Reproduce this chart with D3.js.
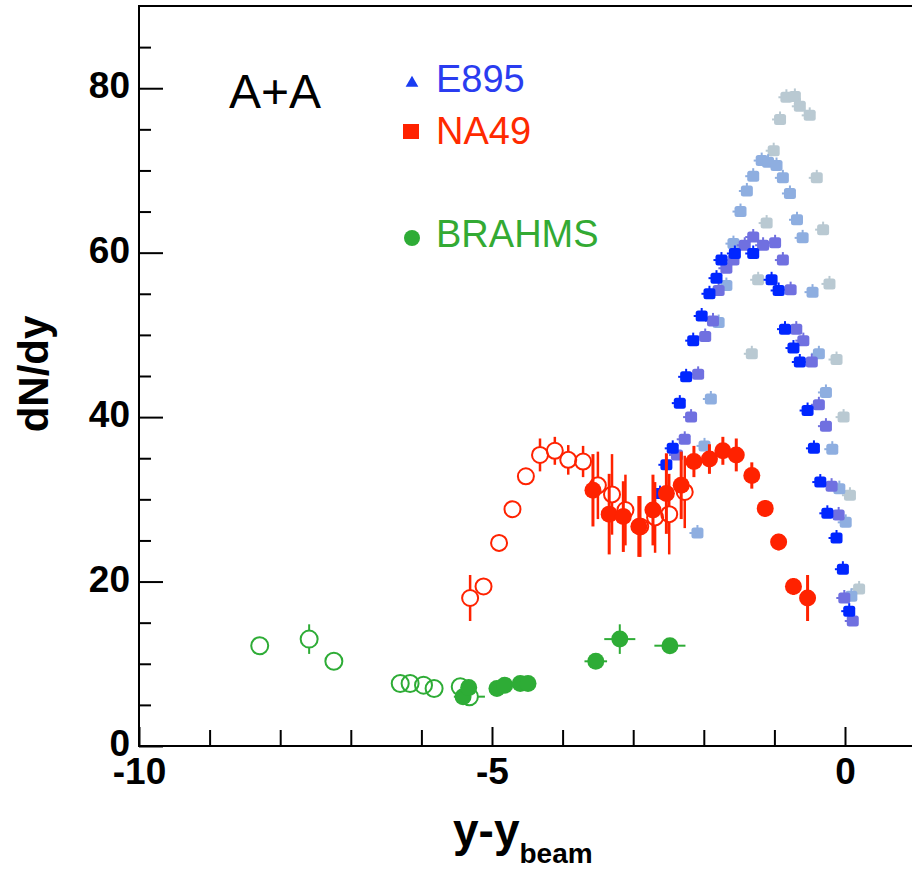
<!DOCTYPE html>
<html>
<head>
<meta charset="utf-8">
<script src="https://cdn.jsdelivr.net/npm/d3@7"></script>
<style>
  html, body { margin: 0; padding: 0; background: #fff; }
  svg { display: block; }
  text { font-family: "Liberation Sans", Arial, sans-serif; }
</style>
</head>
<body>
<svg id="chart" width="912" height="869"></svg>
<script>
// ---------------- DATA ----------------
const xTicks = [-10, -5, 0];
const xMinorTicks = [-9, -8, -7, -6, -4, -3, -2, -1];
const yTicks = [0, 20, 40, 60, 80];
const yMinorTicks = [5, 10, 15, 25, 30, 35, 45, 50, 55, 65, 70, 75, 85];

// E895 (four beam energies) : [y-ybeam, dN/dy]
const e895_2 = [
  [-2.62, 30.7], [-2.53, 34.2], [-2.44, 36.2], [-2.34, 41.7], [-2.25, 44.9],
  [-2.15, 49.3], [-2.03, 52.3], [-1.92, 55.0], [-1.82, 56.9], [-1.75, 59.1],
  [-1.56, 59.9], [-1.30, 59.9], [-1.04, 56.7], [-0.94, 55.4], [-0.85, 50.7],
  [-0.73, 48.4], [-0.64, 46.7], [-0.53, 40.8], [-0.44, 36.2], [-0.35, 32.1],
  [-0.25, 28.3], [-0.12, 25.3], [-0.03, 21.5], [0.06, 16.4]
];
const e895_4 = [
  [-2.38, 35.4], [-2.27, 37.3], [-2.18, 40.0], [-2.08, 45.2], [-1.98, 49.8],
  [-1.87, 51.7], [-1.79, 55.4], [-1.68, 58.1], [-1.58, 59.1], [-1.42, 60.9],
  [-1.30, 61.9], [-1.16, 60.9], [-0.99, 61.2], [-0.88, 59.1], [-0.77, 55.5],
  [-0.69, 50.7], [-0.59, 49.3], [-0.47, 46.7], [-0.37, 41.5], [-0.27, 38.9],
  [-0.19, 31.6], [-0.09, 28.1], [-0.01, 18.0], [0.11, 15.2]
];
const e895_6 = [
  [-2.09, 25.9], [-1.99, 36.5], [-1.90, 42.2], [-1.79, 51.5], [-1.68, 56.0],
  [-1.58, 61.1], [-1.48, 65.0], [-1.39, 67.5], [-1.30, 69.3], [-1.18, 71.2],
  [-1.09, 71.0], [-0.97, 70.6], [-0.88, 69.1], [-0.78, 67.2], [-0.68, 64.0],
  [-0.60, 61.8], [-0.46, 55.2], [-0.37, 47.7], [-0.27, 43.0], [-0.18, 36.1],
  [-0.08, 31.3], [0.01, 27.2], [0.09, 18.2]
];
const e895_8 = [
  [-1.32, 47.7], [-1.23, 56.7], [-1.11, 63.6], [-1.01, 72.4], [-0.92, 76.2],
  [-0.83, 78.9], [-0.71, 79.0], [-0.64, 77.8], [-0.50, 76.7], [-0.40, 69.1],
  [-0.31, 62.8], [-0.22, 56.2], [-0.12, 47.0], [-0.02, 40.0], [0.07, 30.5],
  [0.20, 19.1]
];

// NA49 : [y-ybeam, dN/dy, error]
const na49Measured = [
  [-3.57, 31.1, 4.4], [-3.34, 28.2, 4.9], [-3.14, 27.9, 4.3], [-2.92, 26.7, 3.7],
  [-2.72, 28.7, 4.3], [-2.53, 30.7, 4.9], [-2.32, 31.7, 4.1], [-2.14, 34.6, 1.9],
  [-1.92, 34.9, 1.8], [-1.73, 35.9, 1.7], [-1.54, 35.4, 2.0], [-1.32, 32.9, 1.6],
  [-1.13, 28.9, 1.0], [-0.94, 24.8, 1.0], [-0.73, 19.4, 1.0], [-0.53, 18.0, 2.8]
];
const na49Reflected = [
  [-5.31, 18.0, 2.8], [-5.12, 19.4, 1.0], [-4.90, 24.7, 1.0], [-4.71, 28.8, 1.0],
  [-4.52, 32.8, 1.0], [-4.32, 35.4, 2.0], [-4.11, 35.9, 1.7], [-3.92, 34.8, 1.8],
  [-3.71, 34.6, 1.9], [-3.50, 31.7, 4.1], [-3.30, 30.6, 4.9], [-3.11, 28.7, 4.3],
  [-2.90, 26.7, 3.7], [-2.69, 27.8, 4.3], [-2.49, 28.2, 4.9], [-2.27, 30.9, 4.4]
];

// BRAHMS : [y-ybeam, dN/dy, yError, xError]
const brahmsMeasured = [
  [-5.41, 6.0, 0.4, 0.10], [-5.33, 7.1, 0.4, 0.10], [-4.93, 7.0, 0.4, 0.10],
  [-4.82, 7.4, 0.4, 0.05], [-4.60, 7.6, 0.4, 0.05], [-4.49, 7.6, 0.4, 0.05],
  [-3.53, 10.3, 0.5, 0.16], [-3.19, 13.0, 1.8, 0.22], [-2.48, 12.2, 0.6, 0.22]
];
const brahmsReflected = [
  [-8.29, 12.2, 0.6, 0.0], [-7.59, 13.0, 1.8, 0.0], [-7.24, 10.3, 0.5, 0.0],
  [-6.30, 7.6, 0.4, 0.0], [-6.16, 7.6, 0.4, 0.0], [-5.97, 7.4, 0.4, 0.0],
  [-5.82, 7.0, 0.4, 0.0], [-5.45, 7.2, 0.4, 0.0], [-5.32, 6.0, 0.4, 0.22]
];

const legendLabels = ["E895", "NA49", "BRAHMS"];

// ---------------- DRAWING ----------------
const svg = d3.select("#chart");
const x = d3.scaleLinear().domain([-10, 1]).range([139, 915.6]);
const y = d3.scaleLinear().domain([0, 90]).range([746, 6]);

const RED = "#ff2200", GREEN = "#2eac36";
const E_COLORS = { e2: "#0026ff", e4: "#7070e0", e6: "#8eaee0", e8: "#b9c9d2" };

// frame
svg.append("path")
  .attr("d", `M${x(1)},${y(90)}H${x(-10)}V${y(0)}H${x(1)}`)
  .attr("fill", "none").attr("stroke", "#000").attr("stroke-width", 2);

// axes
const axisFont = (g) => g.selectAll("text")
  .attr("font-family", "'Liberation Sans', Arial, sans-serif")
  .attr("font-weight", "bold").attr("font-size", 37).attr("fill", "#000");

const gx = svg.append("g").attr("transform", `translate(0,${y(0)})`)
  .call(d3.axisBottom(x).tickValues(xTicks).tickFormat(d3.format("d"))
    .tickSizeInner(-19).tickSizeOuter(0).tickPadding(12));
gx.select(".domain").remove();
gx.selectAll("line").attr("stroke-width", 2);
gx.call(axisFont);
gx.selectAll("text").attr("dy", "0.71em").text(d => String(d));

const gxm = svg.append("g").attr("transform", `translate(0,${y(0)})`)
  .call(d3.axisBottom(x).tickValues(xMinorTicks).tickFormat("")
    .tickSizeInner(-16).tickSizeOuter(0));
gxm.select(".domain").remove();
gxm.selectAll("line").attr("stroke-width", 2);

const gy = svg.append("g").attr("transform", `translate(${x(-10)},0)`)
  .call(d3.axisLeft(y).tickValues(yTicks).tickFormat(d3.format("d"))
    .tickSizeInner(-24).tickSizeOuter(0).tickPadding(9));
gy.select(".domain").remove();
gy.selectAll("line").attr("stroke-width", 2);
gy.call(axisFont);
gy.selectAll("text").attr("dy", "0.26em");

const gym = svg.append("g").attr("transform", `translate(${x(-10)},0)`)
  .call(d3.axisLeft(y).tickValues(yMinorTicks).tickFormat("")
    .tickSizeInner(-12).tickSizeOuter(0));
gym.select(".domain").remove();
gym.selectAll("line").attr("stroke-width", 2);

// axis titles
svg.append("text")
  .attr("transform", `translate(48,374) rotate(-90)`)
  .attr("text-anchor", "middle")
  .attr("font-weight", "bold").attr("font-size", 42)
  .text("dN/dy");

const xt = svg.append("text")
  .attr("x", 453).attr("y", 846)
  .attr("font-weight", "bold").attr("font-size", 46);
xt.append("tspan").text("y-y");
xt.append("tspan").attr("dy", 17).attr("font-size", 28).text("beam");

// A+A
svg.append("text").attr("x", 229).attr("y", 108)
  .attr("font-size", 48).attr("fill", "#000").text("A+A");

// ---- E895 markers ----
function drawE895(data, color) {
  const g = svg.append("g");
  const pts = g.selectAll("g").data(data).join("g")
    .attr("transform", d => `translate(${x(d[0])},${y(d[1])})`);
  pts.append("line").attr("x1", 0).attr("x2", 0).attr("y1", -8).attr("y2", 0)
    .attr("stroke", color).attr("stroke-width", 2);
  pts.append("line").attr("x1", -8).attr("x2", 0).attr("y1", 0).attr("y2", 0)
    .attr("stroke", color).attr("stroke-width", 2);
  pts.append("rect").attr("x", -6).attr("y", -5.5).attr("width", 12).attr("height", 11)
    .attr("rx", 2.5).attr("fill", color);
}
drawE895(e895_8, E_COLORS.e8);
drawE895(e895_6, E_COLORS.e6);
drawE895(e895_4, E_COLORS.e4);
drawE895(e895_2, E_COLORS.e2);

// ---- error bars: drawn only outside the marker radius ----
function drawErr(data, color, width, r, yErrIdx, xErrIdx) {
  const g = svg.append("g").attr("stroke", color).attr("stroke-width", width);
  const segs = [];
  data.forEach(d => {
    const cx = x(d[0]), cy = y(d[1]);
    const top = y(d[1] + d[yErrIdx]), bot = y(d[1] - d[yErrIdx]);
    if (cy - top > r) segs.push([cx, top, cx, cy - r]);
    if (bot - cy > r) segs.push([cx, cy + r, cx, bot]);
    if (xErrIdx !== undefined && d[xErrIdx] > 0) {
      const l = x(d[0] - d[xErrIdx]), rr = x(d[0] + d[xErrIdx]);
      if (cx - l > r) segs.push([l, cy, cx - r, cy]);
      if (rr - cx > r) segs.push([cx + r, cy, rr, cy]);
    }
  });
  g.selectAll("line").data(segs).join("line")
    .attr("x1", s => s[0]).attr("y1", s => s[1])
    .attr("x2", s => s[2]).attr("y2", s => s[3]);
}

// ---- NA49 ----
drawErr(na49Reflected, RED, 2.5, 8, 2);
svg.append("g").selectAll("circle").data(na49Reflected).join("circle")
  .attr("cx", d => x(d[0])).attr("cy", d => y(d[1])).attr("r", 8)
  .attr("fill", "none").attr("stroke", RED).attr("stroke-width", 2);
drawErr(na49Measured, RED, 3, 0, 2);
svg.append("g").selectAll("circle").data(na49Measured).join("circle")
  .attr("cx", d => x(d[0])).attr("cy", d => y(d[1])).attr("r", 8.5)
  .attr("fill", RED);

// ---- BRAHMS ----
drawErr(brahmsReflected, GREEN, 2, 8.5, 2, 3);
svg.append("g").selectAll("circle").data(brahmsReflected).join("circle")
  .attr("cx", d => x(d[0])).attr("cy", d => y(d[1])).attr("r", 8.5)
  .attr("fill", "none").attr("stroke", GREEN).attr("stroke-width", 2);
drawErr(brahmsMeasured, GREEN, 2, 0, 2, 3);
svg.append("g").selectAll("circle").data(brahmsMeasured).join("circle")
  .attr("cx", d => x(d[0])).attr("cy", d => y(d[1])).attr("r", 8.5)
  .attr("fill", GREEN);

// ---- Legend ----
const lg = svg.append("g");
lg.append("path").attr("d", d3.symbol().type(d3.symbolTriangle).size(70)())
  .attr("transform", "translate(412,83)").attr("fill", "#1a3cf2");
lg.append("rect").attr("x", 403).attr("y", 124).attr("width", 16).attr("height", 15)
  .attr("fill", RED);
lg.append("circle").attr("cx", 412).attr("cy", 238).attr("r", 8).attr("fill", GREEN);
const legendColors = ["#2a3cf0", "#ff2a00", "#33aa33"];
const legendY = [92, 144, 247];
lg.selectAll("text.lab").data(legendLabels).join("text").attr("class", "lab")
  .attr("x", 436).attr("y", (d, i) => legendY[i])
  .attr("font-size", 38).attr("fill", (d, i) => legendColors[i])
  .text(d => d);
</script>
</body>
</html>
